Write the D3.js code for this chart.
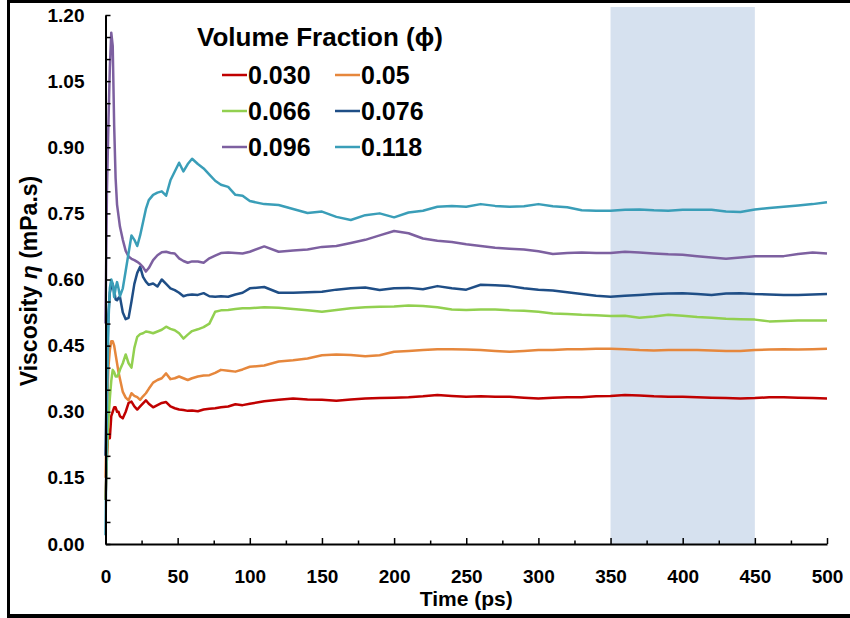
<!DOCTYPE html>
<html>
<head>
<meta charset="utf-8">
<script src="https://cdn.jsdelivr.net/npm/d3@7"></script>
<style>
  body { margin: 0; background: #fff; }
  text { font-family: "Liberation Sans", Arial, sans-serif; font-weight: bold; }
</style>
</head>
<body>
<div id="chart"></div>
<script>
// time grid (ps) shared by every series
const times = [0, 1, 2, 3, 4, 5, 6, 7, 8, 9, 10, 12, 14, 16, 18, 20, 22, 24, 26, 28, 30,
    33, 36, 39, 42, 45, 48, 51, 54, 57, 60, 64, 68, 72, 76, 80, 85, 90, 95, 100,
    110, 120, 130, 140, 150, 160, 170, 180, 190, 200, 210, 220, 230, 240, 250, 260, 270, 280, 290, 300,
    310, 320, 330, 340, 350, 360, 370, 380, 390, 400, 410, 420, 430, 440, 450, 460, 470, 480, 490, 500];

const phi030 = [0.10, 0.20, 0.26, 0.24, 0.29, 0.30, 0.31, 0.31, 0.30, 0.30, 0.29, 0.285, 0.30, 0.32, 0.323, 0.312, 0.305, 0.312, 0.319, 0.326, 0.318,
    0.31, 0.315, 0.32, 0.322, 0.312, 0.308, 0.305, 0.304, 0.302, 0.303, 0.301, 0.305, 0.307, 0.308, 0.31, 0.312, 0.317, 0.315, 0.318,
    0.324, 0.327, 0.330, 0.328, 0.327, 0.325, 0.328, 0.330, 0.331, 0.332, 0.333, 0.335, 0.338, 0.336, 0.334, 0.335, 0.334, 0.334, 0.332, 0.330,
    0.332, 0.333, 0.333, 0.335, 0.336, 0.338, 0.337, 0.335, 0.334, 0.334, 0.333, 0.332, 0.331, 0.330, 0.331, 0.333, 0.333, 0.332, 0.331, 0.330];

const phi05 = [0.15, 0.30, 0.40, 0.44, 0.46, 0.46, 0.45, 0.43, 0.41, 0.39, 0.375, 0.345, 0.332, 0.326, 0.342, 0.336, 0.333, 0.327, 0.335, 0.342, 0.352,
    0.366, 0.372, 0.376, 0.387, 0.374, 0.376, 0.380, 0.376, 0.372, 0.376, 0.380, 0.382, 0.383, 0.388, 0.395, 0.393, 0.391, 0.396, 0.402,
    0.405, 0.414, 0.417, 0.421, 0.428, 0.430, 0.429, 0.426, 0.428, 0.436, 0.438, 0.440, 0.442, 0.442, 0.441, 0.440, 0.438, 0.436, 0.438, 0.440,
    0.440, 0.442, 0.442, 0.443, 0.443, 0.442, 0.440, 0.439, 0.440, 0.440, 0.440, 0.439, 0.438, 0.438, 0.440, 0.441, 0.442, 0.441, 0.442, 0.443];

const phi066 = [0.10, 0.20, 0.28, 0.33, 0.37, 0.395, 0.39, 0.38, 0.38, 0.385, 0.395, 0.41, 0.43, 0.41, 0.40, 0.445, 0.47, 0.476, 0.478, 0.482, 0.481,
    0.478, 0.482, 0.486, 0.493, 0.488, 0.485, 0.478, 0.466, 0.475, 0.483, 0.487, 0.492, 0.500, 0.527, 0.530, 0.531, 0.533, 0.535, 0.535,
    0.537, 0.536, 0.533, 0.530, 0.527, 0.531, 0.535, 0.537, 0.538, 0.539, 0.541, 0.540, 0.537, 0.532, 0.531, 0.532, 0.532, 0.530, 0.529, 0.527,
    0.523, 0.522, 0.520, 0.519, 0.517, 0.518, 0.513, 0.516, 0.520, 0.518, 0.515, 0.513, 0.511, 0.510, 0.509, 0.505, 0.506, 0.507, 0.507, 0.507];

const phi076 = [0.20, 0.40, 0.52, 0.57, 0.585, 0.59, 0.575, 0.555, 0.553, 0.558, 0.561, 0.525, 0.51, 0.513, 0.55, 0.59, 0.615, 0.629, 0.606, 0.595, 0.588,
    0.591, 0.584, 0.600, 0.590, 0.580, 0.576, 0.570, 0.562, 0.565, 0.566, 0.565, 0.569, 0.562, 0.561, 0.562, 0.561, 0.566, 0.570, 0.580,
    0.583, 0.570, 0.570, 0.571, 0.572, 0.577, 0.580, 0.582, 0.576, 0.580, 0.581, 0.578, 0.585, 0.580, 0.577, 0.588, 0.587, 0.585, 0.580, 0.577,
    0.575, 0.571, 0.567, 0.563, 0.561, 0.563, 0.565, 0.567, 0.568, 0.569, 0.567, 0.565, 0.568, 0.569, 0.567, 0.566, 0.565, 0.565, 0.566, 0.567];

const phi096 = [0.50, 0.80, 0.95, 1.08, 1.16, 1.13, 0.95, 0.83, 0.77, 0.745, 0.72, 0.69, 0.665, 0.652, 0.647, 0.644, 0.64, 0.635, 0.628, 0.618, 0.626,
    0.644, 0.655, 0.662, 0.663, 0.66, 0.659, 0.648, 0.642, 0.638, 0.641, 0.641, 0.638, 0.648, 0.654, 0.66, 0.661, 0.66, 0.659, 0.663,
    0.675, 0.663, 0.666, 0.668, 0.674, 0.676, 0.683, 0.690, 0.700, 0.710, 0.705, 0.693, 0.688, 0.685, 0.680, 0.676, 0.672, 0.670, 0.668, 0.664,
    0.658, 0.660, 0.661, 0.660, 0.660, 0.663, 0.661, 0.659, 0.657, 0.656, 0.653, 0.650, 0.647, 0.650, 0.653, 0.653, 0.653, 0.658, 0.661, 0.659];

const phi118 = [0.02, 0.30, 0.50, 0.58, 0.60, 0.59, 0.56, 0.58, 0.594, 0.58, 0.562, 0.58, 0.62, 0.66, 0.70, 0.69, 0.676, 0.70, 0.73, 0.76, 0.78,
    0.792, 0.797, 0.80, 0.79, 0.825, 0.845, 0.865, 0.845, 0.862, 0.874, 0.862, 0.852, 0.838, 0.824, 0.815, 0.81, 0.792, 0.79, 0.778,
    0.771, 0.769, 0.760, 0.751, 0.754, 0.742, 0.735, 0.746, 0.750, 0.741, 0.752, 0.756, 0.765, 0.767, 0.765, 0.771, 0.767, 0.765, 0.766, 0.771,
    0.766, 0.764, 0.757, 0.756, 0.756, 0.758, 0.759, 0.757, 0.756, 0.758, 0.758, 0.758, 0.754, 0.753, 0.759, 0.762, 0.765, 0.768, 0.771, 0.775];

const seriesNames = ["0.030", "0.05", "0.066", "0.076", "0.096", "0.118"];
const seriesValues = [phi030, phi05, phi066, phi076, phi096, phi118];
const seriesColors = ["#C00000", "#E6873C", "#92D050", "#1F4E86", "#7D60A0", "#3A9EB8"];

const shadeRange = [350, 450];
const xTickLabels = [0, 50, 100, 150, 200, 250, 300, 350, 400, 450, 500];

const width = 850, height = 618;

const svg = d3.select("#chart")
    .append("svg")
    .attr("width", width)
    .attr("height", height);

svg.append("rect").attr("width", width).attr("height", height).attr("fill", "#fff");

// outer frame (left, top, bottom)
svg.append("line").attr("x1", 8.5).attr("x2", 8.5).attr("y1", 0).attr("y2", height).attr("stroke", "#000").attr("stroke-width", 3);
svg.append("line").attr("x1", 7).attr("x2", width).attr("y1", 1.5).attr("y2", 1.5).attr("stroke", "#000").attr("stroke-width", 3);
svg.append("line").attr("x1", 7).attr("x2", width).attr("y1", 616).attr("y2", 616).attr("stroke", "#000").attr("stroke-width", 4);

const x = d3.scaleLinear().domain([0, 500]).range([105.5, 827]);
const y = d3.scaleLinear().domain([0, 1.2]).range([544, 15]);

// highlighted window
svg.append("rect")
    .attr("x", x(shadeRange[0]))
    .attr("y", 7)
    .attr("width", x(shadeRange[1]) - x(shadeRange[0]))
    .attr("height", y(0) - 7)
    .attr("fill", "#D6E1EF");

// series
const line = d3.line()
    .x((d, i) => x(times[i]))
    .y(d => y(d));

svg.selectAll(".series")
    .data(seriesValues)
    .join("path")
    .attr("class", "series")
    .attr("fill", "none")
    .attr("stroke", (d, i) => seriesColors[i])
    .attr("stroke-width", 2.5)
    .attr("stroke-linejoin", "round")
    .attr("d", line);

// y axis: minor ticks every 0.05, labels every 0.15
const yAxis = svg.append("g")
    .attr("transform", `translate(${x(0)},0)`)
    .call(d3.axisLeft(y)
        .tickValues(d3.range(0, 24.5).map(i => i * 0.05))
        .tickSizeInner(-5)
        .tickSizeOuter(0)
        .tickPadding(21)
        .tickFormat((d, i) => i % 3 === 0 ? d3.format(".2f")(d) : ""));
yAxis.select(".domain").attr("stroke-width", 2);
yAxis.selectAll(".tick line").attr("stroke-width", 1.5);
yAxis.selectAll("text").style("font-size", "19px").attr("fill", "#000");

// x axis: ticks every 25, labels every 50
const xAxis = svg.append("g")
    .attr("transform", `translate(0,${y(0)})`)
    .call(d3.axisBottom(x)
        .tickValues(d3.range(0, 501, 25))
        .tickSizeInner(-6)
        .tickSizeOuter(0)
        .tickPadding(26)
        .tickFormat(d => xTickLabels.includes(d) ? d : ""));
xAxis.select(".domain").attr("stroke-width", 2);
xAxis.selectAll(".tick line")
    .attr("stroke-width", 1.5)
    .attr("y2", d => d % 50 === 0 ? -6 : -3.5);
xAxis.selectAll("text").style("font-size", "19px").attr("fill", "#000");

// axis titles
svg.append("text")
    .attr("x", (x(0) + x(500)) / 2)
    .attr("y", 606)
    .attr("text-anchor", "middle")
    .style("font-size", "21px")
    .text("Time (ps)");

const yTitle = svg.append("text")
    .attr("transform", "translate(37,281) rotate(-90)")
    .attr("text-anchor", "middle")
    .style("font-size", "23px");
yTitle.append("tspan").text("Viscosity ");
yTitle.append("tspan").style("font-style", "italic").text("η");
yTitle.append("tspan").text(" (mPa.s)");

// legend
svg.append("text")
    .attr("x", 197)
    .attr("y", 46)
    .style("font-size", "26px")
    .text("Volume Fraction (\u03D5)");

const legendItems = svg.selectAll(".legend")
    .data(seriesNames)
    .join("g")
    .attr("class", "legend")
    .attr("transform", (d, i) => `translate(${i % 2 === 0 ? 222 : 335},${75 + Math.floor(i / 2) * 36})`);

legendItems.append("line")
    .attr("x1", 0)
    .attr("x2", 25)
    .attr("stroke", (d, i) => seriesColors[i])
    .attr("stroke-width", 2.5);

legendItems.append("text")
    .attr("x", 26)
    .attr("y", 9)
    .style("font-size", "25px")
    .text(d => d);
</script>
</body>
</html>
